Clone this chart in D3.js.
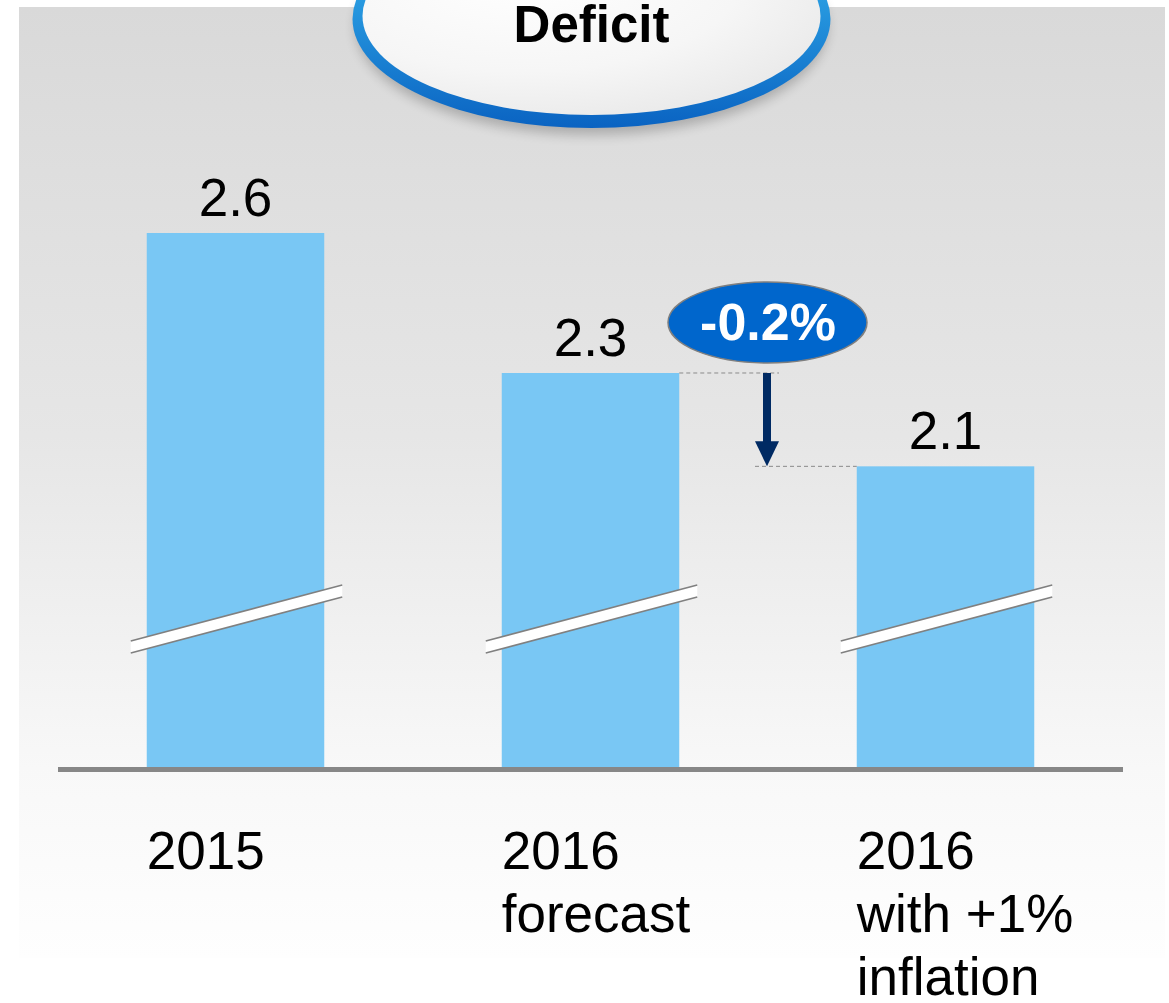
<!DOCTYPE html>
<html>
<head>
<meta charset="utf-8">
<script src="https://cdn.jsdelivr.net/npm/d3@7"></script>
<style>
  html, body { margin: 0; padding: 0; background: #ffffff; }
  svg { display: block; }
  text { font-family: "Liberation Sans", Arial, sans-serif; }
</style>
</head>
<body>
<svg id="chart" width="1169" height="1003"></svg>
<script>
// ---- data ----
const categories = ["2015", "2016 forecast", "2016 with +1% inflation"];
const categoryLines = [["2015"], ["2016", "forecast"], ["2016", "with +1%", "inflation"]];
const values = [2.6, 2.3, 2.1];
const valueLabels = ["2.6", "2.3", "2.1"];
const title = "Deficit";
const changeLabel = "-0.2%";
const axisMin = 1.4557; // broken axis: value at the baseline

// ---- layout ----
const svg = d3.select("#chart");
const defs = svg.append("defs");

const bg = defs.append("linearGradient").attr("id", "bg").attr("x1", 0).attr("y1", 0).attr("x2", 0).attr("y2", 1);
bg.append("stop").attr("offset", "0%").attr("stop-color", "#d9d9d9");
bg.append("stop").attr("offset", "45%").attr("stop-color", "#e6e6e6");
bg.append("stop").attr("offset", "80%").attr("stop-color", "#f8f8f8");
bg.append("stop").attr("offset", "100%").attr("stop-color", "#fefefe");

const rim = defs.append("linearGradient").attr("id", "rim").attr("x1", 0).attr("y1", 0).attr("x2", 0).attr("y2", 1);
rim.append("stop").attr("offset", "0%").attr("stop-color", "#3cc0f5");
rim.append("stop").attr("offset", "100%").attr("stop-color", "#0a63c2");

const face = defs.append("radialGradient").attr("id", "face").attr("cx", "35%").attr("cy", "30%").attr("r", "80%");
face.append("stop").attr("offset", "0%").attr("stop-color", "#ffffff");
face.append("stop").attr("offset", "60%").attr("stop-color", "#f6f6f6");
face.append("stop").attr("offset", "100%").attr("stop-color", "#e8e8e8");

const blur = defs.append("filter").attr("id", "blur").attr("x", "-20%").attr("y", "-20%").attr("width", "140%").attr("height", "140%");
blur.append("feGaussianBlur").attr("stdDeviation", 6);

// background panel
svg.append("rect").attr("x", 19).attr("y", 7).attr("width", 1146).attr("height", 951).attr("fill", "url(#bg)");

// scales
const x = d3.scaleBand().domain(categories).range([58, 1123]).paddingInner(0.5).paddingOuter(0.25);
const y = d3.scaleLinear().domain([axisMin, 2.6]).range([767, 233]);
const baseY = y(axisMin);

// title bubble
const tcx = 591.5, tcy = 19;
svg.append("ellipse").attr("cx", tcx).attr("cy", tcy + 8).attr("rx", 236).attr("ry", 108)
  .attr("fill", "#000").attr("opacity", 0.22).attr("filter", "url(#blur)");
svg.append("ellipse").attr("cx", tcx).attr("cy", tcy).attr("rx", 239).attr("ry", 109).attr("fill", "url(#rim)");
svg.append("ellipse").attr("cx", tcx).attr("cy", tcy - 3).attr("rx", 229).attr("ry", 99).attr("fill", "url(#face)");
svg.append("text").attr("x", tcx).attr("y", 42).attr("text-anchor", "middle")
  .attr("font-size", 51).attr("font-weight", "bold").attr("fill", "#000").text(title);

// bars
svg.append("g").selectAll("rect").data(values).join("rect")
  .attr("x", (d, i) => x(categories[i]))
  .attr("y", d => y(d))
  .attr("width", x.bandwidth())
  .attr("height", d => baseY - y(d))
  .attr("fill", "#79c7f4");

// axis break marks
const brk = svg.append("g");
categories.forEach(c => {
  const x0 = x(c) - 16, x1 = x(c) + x.bandwidth() + 18;
  const yL = 647, yR = 591;
  brk.append("polygon")
    .attr("points", `${x0},${yL - 6} ${x1},${yR - 6} ${x1},${yR + 6} ${x0},${yL + 6}`)
    .attr("fill", "#ffffff");
  [-6, 6].forEach(o => brk.append("line")
    .attr("x1", x0).attr("y1", yL + o).attr("x2", x1).attr("y2", yR + o)
    .attr("stroke", "#808080").attr("stroke-width", 1.6));
});

// baseline axis
svg.append("line").attr("x1", 58).attr("x2", 1123).attr("y1", baseY + 2.5).attr("y2", baseY + 2.5)
  .attr("stroke", "#878787").attr("stroke-width", 5);

// value labels
svg.append("g").selectAll("text").data(values).join("text")
  .attr("x", (d, i) => x(categories[i]) + x.bandwidth() / 2)
  .attr("y", d => y(d) - 17)
  .attr("text-anchor", "middle").attr("font-size", 53).attr("fill", "#000")
  .text((d, i) => valueLabels[i]);

// category labels
const cat = svg.append("g");
categoryLines.forEach((lines, i) => {
  const t = cat.append("text").attr("x", x(categories[i])).attr("y", 869)
    .attr("font-size", 53).attr("fill", "#000");
  lines.forEach((l, j) => t.append("tspan").attr("x", x(categories[i])).attr("dy", j === 0 ? 0 : 63).text(l));
});

// change annotation
const b2r = x(categories[1]) + x.bandwidth();
const b3l = x(categories[2]);
const ax = (b2r + b3l) / 2 - 1;
const y2 = y(values[1]), y3 = y(values[2]);
svg.append("line").attr("x1", b2r).attr("x2", ax + 12).attr("y1", y2).attr("y2", y2)
  .attr("stroke", "#8a8a8a").attr("stroke-width", 1).attr("stroke-dasharray", "4,3");
svg.append("line").attr("x1", ax - 12).attr("x2", b3l).attr("y1", y3).attr("y2", y3)
  .attr("stroke", "#8a8a8a").attr("stroke-width", 1).attr("stroke-dasharray", "4,3");
svg.append("rect").attr("x", ax - 4).attr("y", y2).attr("width", 8).attr("height", (y3 - y2) - 22)
  .attr("fill", "#002a63");
svg.append("polygon")
  .attr("points", `${ax - 12},${y3 - 25} ${ax + 12},${y3 - 25} ${ax},${y3}`)
  .attr("fill", "#002a63");

svg.append("ellipse").attr("cx", 767.5).attr("cy", 322.5).attr("rx", 99.5).attr("ry", 40.5)
  .attr("fill", "#0066cc").attr("stroke", "#7f7f7f").attr("stroke-width", 1.5);
svg.append("text").attr("x", 768).attr("y", 340).attr("text-anchor", "middle")
  .attr("font-size", 52).attr("font-weight", "bold").attr("fill", "#ffffff").text(changeLabel);
</script>
</body>
</html>
